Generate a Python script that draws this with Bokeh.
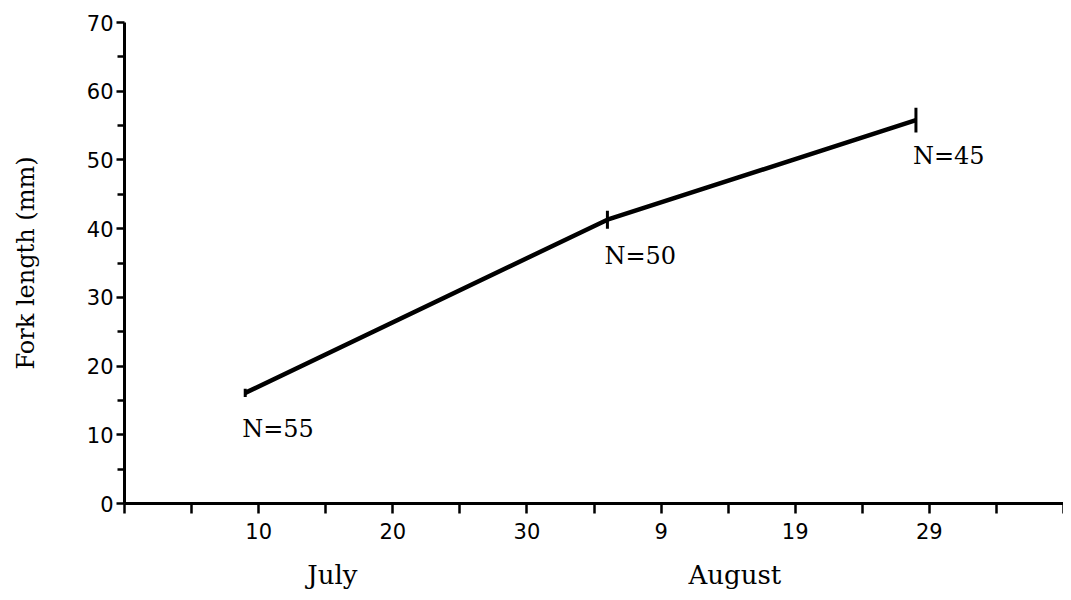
from bokeh.plotting import figure
from bokeh.models import (ColumnDataSource, FixedTicker, LinearAxis, Range1d)
from bokeh.embed import file_html
from bokeh.resources import INLINE
from bokeh.core.properties import value

# ---- data (days counted from 30 June) ----
days = [9, 36, 59]
fork_length = [16.1, 41.3, 55.8]
error = [0.6, 1.3, 1.8]
n_counts = [55, 50, 45]

x_ticks = [10, 20, 30, 40, 50, 60]
x_tick_labels = ["10", "20", "30", "9", "19", "29"]
x_minor_ticks = [0, 5, 15, 25, 35, 45, 55, 65, 70]
y_ticks = [0, 10, 20, 30, 40, 50, 60, 70]
y_minor_ticks = [5, 15, 25, 35, 45, 55, 65]
month_centers = [15.5, 45.5]
month_names = ["July", "August"]

src = ColumnDataSource(dict(
    x=days, y=fork_length,
    lo=[v - e for v, e in zip(fork_length, error)],
    hi=[v + e for v, e in zip(fork_length, error)],
    lab=["N=%d" % n for n in n_counts],
))

p = figure(width=1063, height=592, output_backend="svg", toolbar_location=None,
           x_range=Range1d(0, 70), y_range=Range1d(0, 70),
           min_border_left=124, min_border_right=0, min_border_top=22,
           min_border_bottom=88, x_axis_location=None, y_axis_location=None)
p.outline_line_color = None
p.xgrid.visible = False
p.ygrid.visible = False
p.background_fill_color = "white"
p.border_fill_color = "white"

tick_font = "DejaVu Sans"
serif = "DejaVu Serif"

# y axis
yax = LinearAxis(ticker=FixedTicker(ticks=y_ticks, minor_ticks=y_minor_ticks))
yax.axis_label = "Fork length (mm)"
yax.axis_label_text_font = serif
yax.axis_label_text_font_size = "24px"
yax.axis_label_text_font_style = "normal"
yax.axis_label_text_color = "black"
yax.axis_label_standoff = 44
yax.major_label_text_font = tick_font
yax.major_label_text_font_size = "21px"
yax.major_label_text_font_style = "normal"
yax.major_label_text_color = "black"
yax.major_label_standoff = 3
yax.axis_line_width = 3
yax.axis_line_color = "black"
yax.major_tick_line_width = 2.5
yax.minor_tick_line_width = 2.5
yax.major_tick_in = 0
yax.major_tick_out = 8
yax.minor_tick_in = 0
yax.minor_tick_out = 7
p.add_layout(yax, "left")

# x axis
xax = LinearAxis(ticker=FixedTicker(ticks=x_ticks, minor_ticks=x_minor_ticks))
xax.major_label_overrides = {t: l for t, l in zip(x_ticks, x_tick_labels)}
xax.major_label_text_font = tick_font
xax.major_label_text_font_size = "21px"
xax.major_label_text_font_style = "normal"
xax.major_label_text_color = "black"
xax.major_label_standoff = 9
xax.axis_line_width = 3
xax.axis_line_color = "black"
xax.major_tick_line_width = 2.5
xax.minor_tick_line_width = 2.5
xax.major_tick_in = 0
xax.major_tick_out = 10
xax.minor_tick_in = 0
xax.minor_tick_out = 10
p.add_layout(xax, "below")

# month axis
max_ = LinearAxis(ticker=FixedTicker(ticks=month_centers, minor_ticks=[]))
max_.major_label_overrides = {t: l for t, l in zip(month_centers, month_names)}
max_.major_label_text_font = serif
max_.major_label_text_font_size = "26px"
max_.major_label_text_color = "black"
max_.major_label_standoff = 18
max_.axis_line_color = None
max_.major_tick_line_color = None
max_.minor_tick_line_color = None
max_.major_tick_in = 0
max_.major_tick_out = 0
p.add_layout(max_, "below")

p.line("x", "y", source=src, line_width=4.5, line_color="black")
p.segment("x", "lo", "x", "hi", source=src, line_width=3, line_color="black")
p.text("x", "y", text="lab", source=src, text_font=value(serif), text_font_size="24px",
       text_color="black", text_align="left", text_baseline="top",
       x_offset=-3, y_offset=22)

open("out.html", "w").write(file_html(p, INLINE))
